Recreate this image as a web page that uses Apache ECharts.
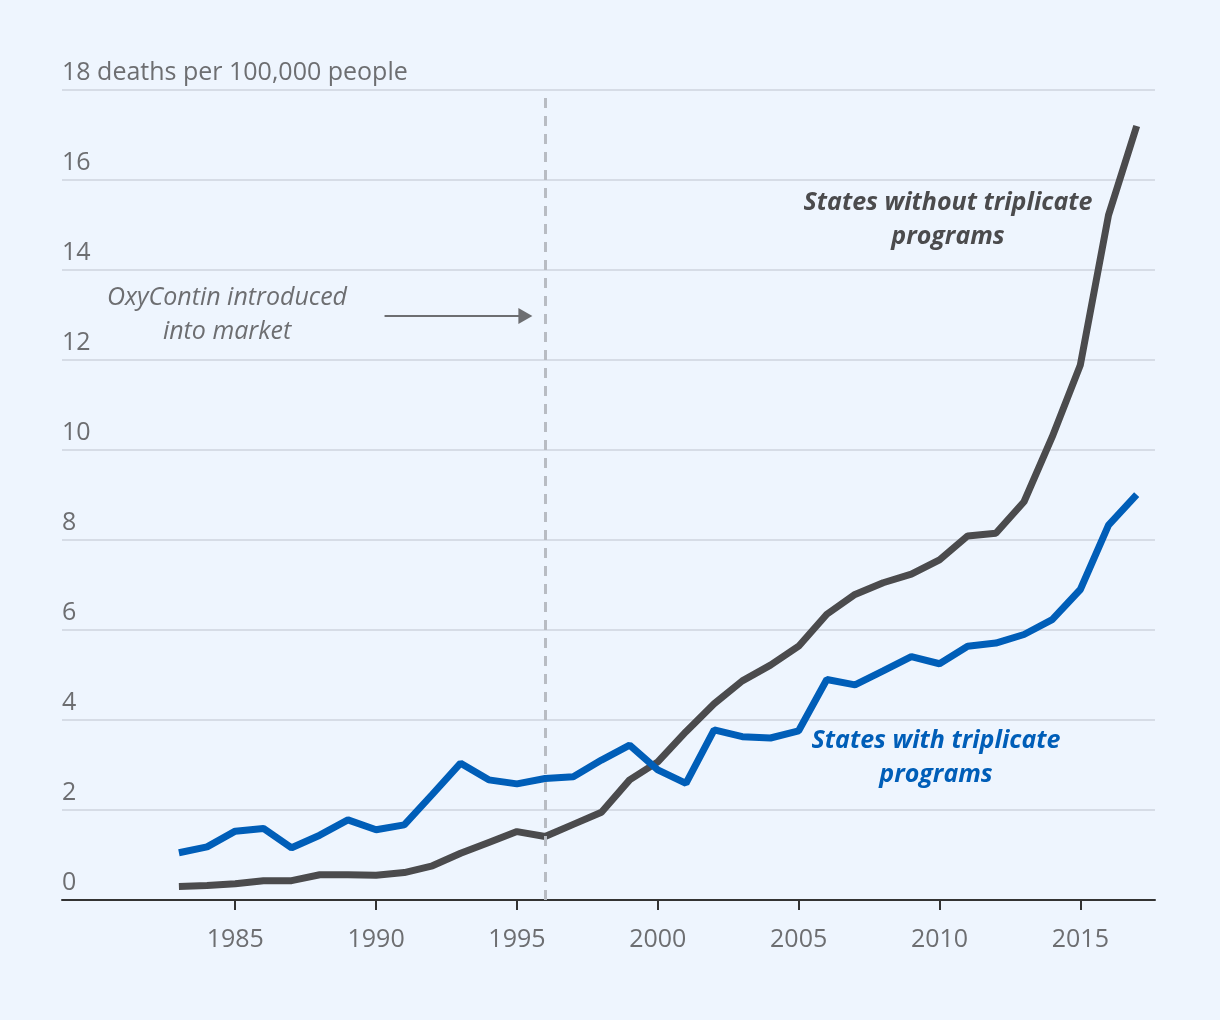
<!DOCTYPE html>
<html><head><meta charset="utf-8">
<script src="https://cdn.jsdelivr.net/npm/echarts@6/dist/echarts.min.js"></script>
<style>html,body{margin:0;padding:0;background:#eef5fe}#c{width:1220px;height:1020px}</style>
</head><body><div id="c"></div>
<script>
const years = [1983,1984,1985,1986,1987,1988,1989,1990,1991,1992,1993,1994,1995,1996,1997,1998,1999,2000,2001,2002,2003,2004,2005,2006,2007,2008,2009,2010,2011,2012,2013,2014,2015,2016,2017];
const withoutTriplicate = [0.30,0.32,0.36,0.43,0.43,0.56,0.56,0.55,0.61,0.76,1.04,1.28,1.52,1.41,1.68,1.95,2.67,3.07,3.74,4.36,4.87,5.22,5.64,6.35,6.79,7.05,7.24,7.56,8.09,8.15,8.85,10.29,11.89,15.22,17.2];
const withTriplicate = [1.05,1.18,1.53,1.59,1.16,1.44,1.78,1.56,1.67,2.35,3.04,2.67,2.58,2.70,2.74,3.11,3.44,2.89,2.59,3.78,3.63,3.60,3.76,4.90,4.78,5.09,5.41,5.25,5.64,5.71,5.90,6.23,6.90,8.33,9.01];
const xTickLabels = [1985,1990,1995,2000,2005,2010,2015];
const yTicks = [0,2,4,6,8,10,12,14,16,18];
const yUnit = 'deaths per 100,000 people';
const oxyYear = 1996;

const FONT = "'Open Sans', 'Noto Sans', sans-serif";
const GREY_TEXT = '#6d6e71';
const chart = echarts.init(document.getElementById('c'));
chart.setOption({
  backgroundColor: '#eef5fe',
  animation: false,
  grid: {left: 62, right: 65, top: 90, bottom: 120},
  xAxis: {
    type: 'value', min: 1978.85, max: 2017.65,
    axisLine: {lineStyle: {color: '#333333', width: 2}},
    axisTick: {show: true, customValues: xTickLabels, length: 10, lineStyle: {color: '#333333', width: 2}},
    axisLabel: {customValues: xTickLabels, margin: 27, color: GREY_TEXT, fontSize: 25, fontFamily: FONT, formatter: v => String(v)},
    splitLine: {show: false}
  },
  yAxis: {
    type: 'value', min: 0, max: 18, interval: 2,
    axisLine: {show: false}, axisTick: {show: false},
    axisLabel: {
      inside: true, margin: 0, align: 'left', verticalAlign: 'bottom',
      padding: [0,0,5,0], color: GREY_TEXT, fontSize: 25, fontFamily: FONT,
      formatter: v => v === 18 ? '18 ' + yUnit : String(v)
    },
    splitLine: {lineStyle: {color: '#d6dce6', width: 2}}
  },
  series: [
    {
      name: 'States without triplicate programs', type: 'line',
      data: years.map((y,i)=>[y, withoutTriplicate[i]]),
      symbol: 'none', lineStyle: {color: '#4b4b4d', width: 7}, z: 3,
      markLine: {
        silent: true, symbol: 'none', label: {show: false},
        lineStyle: {color: '#b8bcc3', width: 3, type: [10, 8]},
        data: [{xAxis: oxyYear}]
      }
    },
    {
      name: 'States with triplicate programs', type: 'line',
      data: years.map((y,i)=>[y, withTriplicate[i]]),
      symbol: 'none', lineStyle: {color: '#005eb8', width: 7}, z: 4,
      markLine: {
        silent: true, symbol: ['none','triangle'], symbolSize: [16, 14], label: {show: false},
        lineStyle: {color: GREY_TEXT, width: 2, type: 'solid'},
        data: [[{coord: [1990.3, 12.98]}, {coord: [1995.3, 12.98]}]]
      }
    }
  ],
  graphic: [
    {type: 'text', position: [948, 220], style: {text: 'States without triplicate\nprograms', font: `italic bold 25px ${FONT}`, fill: '#4b4b4d', textAlign: 'center', textVerticalAlign: 'middle', lineHeight: 34}},
    {type: 'text', position: [936, 758], style: {text: 'States with triplicate\nprograms', font: `italic bold 25px ${FONT}`, fill: '#005eb8', textAlign: 'center', textVerticalAlign: 'middle', lineHeight: 34}},
    {type: 'text', position: [227, 315], style: {text: 'OxyContin introduced\ninto market', font: `italic 25px ${FONT}`, fill: GREY_TEXT, textAlign: 'center', textVerticalAlign: 'middle', lineHeight: 34}}
  ]
});
</script></body></html>
